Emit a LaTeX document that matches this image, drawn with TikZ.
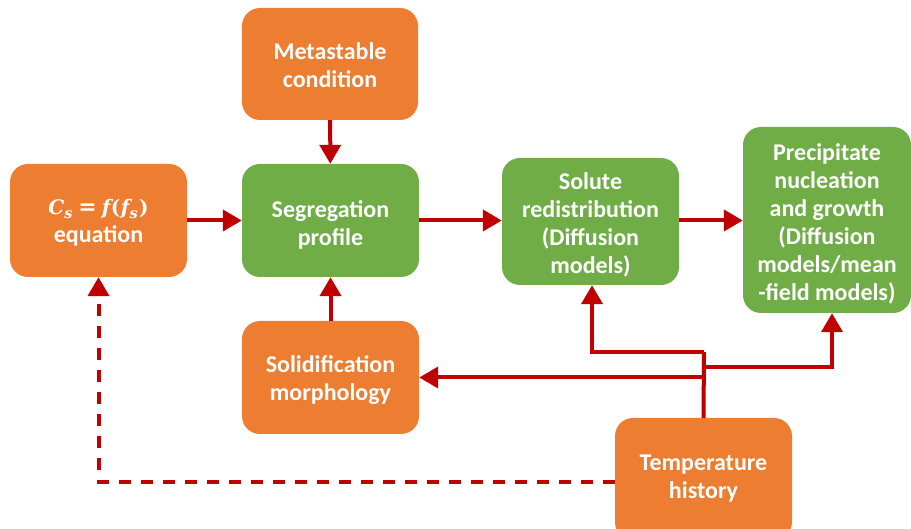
\documentclass[tikz,border=0pt]{standalone}
\usepackage{fontspec}
\setmainfont{Carlito}
\newfontfamily\eqfont{DejaVu Serif}
\usetikzlibrary{arrows.meta}
\definecolor{orng}{HTML}{ED7D31}
\definecolor{grn}{HTML}{70AD47}
\definecolor{arrred}{HTML}{C00000}
\newcommand{\eqsub}[1]{\raisebox{-4.5pt}{\fontsize{14.5}{14.5}\selectfont\itshape #1}}
\newcommand{\eqlabel}{\mbox{\eqfont\fontsize{20}{28}\selectfont\bfseries
  {\itshape C}\eqsub{s}\hspace{6pt}{\fontsize{22}{28}\selectfont =}\hspace{5pt}{\itshape f}\kern0.5pt(\kern0.5pt{\itshape f}\eqsub{s}\kern1.5pt)}}
\begin{document}
\begin{tikzpicture}[x=1pt,y=-1pt,
  box/.style={rounded corners=18pt, inner sep=0pt},
  obox/.style={box, fill=orng},
  gbox/.style={box, fill=grn},
  txt/.style={inner sep=0pt, align=center, text=white,
    font=\fontsize{24}{28}\selectfont\bfseries},
  link/.style={draw=arrred, line width=4pt},
  arr/.style={link, -{Triangle[length=19pt,width=21pt]}},
]
\useasboundingbox (0,0) rectangle (911,529);
\node[obox, minimum width=176pt, minimum height=112pt] (meta) at (330,64) {};
\node[txt, yshift=-1pt] (metat) at (meta.center) {Metastable\\condition};
\node[obox, minimum width=177pt, minimum height=113pt] (eq) at (98.5,220.5) {};
\node[txt, yshift=-2pt] (eqt) at (eq.center) {\eqlabel\\equation};
\node[gbox, minimum width=177pt, minimum height=113pt] (seg) at (330.5,220.5) {};
\node[txt, yshift=-4pt] (segt) at (seg.center) {Segregation\\profile};
\node[gbox, minimum width=177pt, minimum height=127pt] (sol) at (590.5,221.5) {};
\node[txt, yshift=-3pt] (solt) at (sol.center) {Solute\\redistribution\\(Diffusion\\models)};
\node[gbox, minimum width=168pt, minimum height=186pt] (pre) at (827,220) {};
\node[txt, yshift=-4pt] (pret) at (pre.center) {Precipitate\\nucleation\\and growth\\(Diffusion\\models/mean\\-field models)};
\node[obox, minimum width=177pt, minimum height=113pt] (morph) at (330.5,377.5) {};
\node[txt, yshift=-3pt] (morpht) at (morph.center) {Solidification\\morphology};
\node[obox, minimum width=177pt, minimum height=122pt] (temp) at (703.5,479) {};
\node[txt] (tempt) at (temp.center) {Temperature\\history};

\coordinate (j1) at (704,352);
\coordinate (j2) at (704,367);

\draw[arr] (meta) -- (seg);
\draw[arr] (eq) -- (seg);
\draw[arr] (seg.east) -- (sol.west |- seg.east);
\draw[arr] (sol.east |- seg.east) -- (pre.west |- seg.east);
\draw[arr] (morph) -- (seg);
\draw[link] (temp.north) -- (j1);
\draw[arr] (j1) -| ([xshift=1.5pt]sol.south);
\draw[arr] (j2) -| ([xshift=5pt]pre.south);
\draw[arr] (temp.north |- morph.east) -- (morph.east);
\draw[arr, dash pattern=on 12pt off 10pt] ([yshift=-3pt]temp.west) -| (eq.south);
\end{tikzpicture}
\end{document}
